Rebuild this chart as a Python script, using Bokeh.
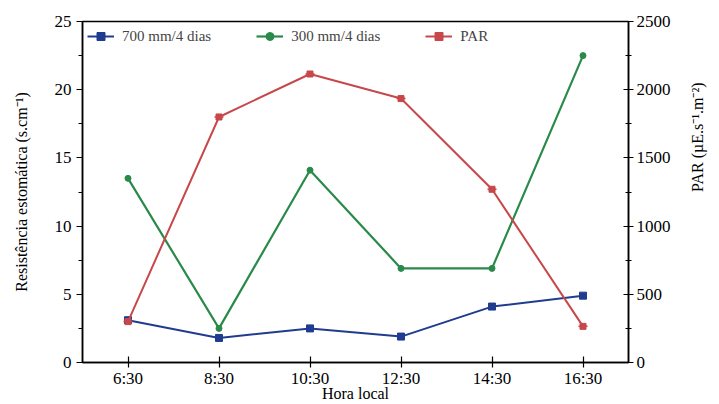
import math
from bokeh.plotting import figure
from bokeh.models import (Range1d, LinearAxis, SingleIntervalTicker, Legend, LegendItem, FactorRange)
from bokeh.embed import file_html
from bokeh.resources import INLINE

hours = ["6:30", "8:30", "10:30", "12:30", "14:30", "16:30"]
res_700 = [3.1, 1.8, 2.5, 1.9, 4.1, 4.9]
res_300 = [13.5, 2.5, 14.1, 6.9, 6.9, 22.5]
par = [300, 1800, 2115, 1935, 1270, 265]

FONT = "Liberation Serif"
BLUE = "#1f3c8f"
GREEN = "#2a8a4a"
RED = "#c8474a"

p = figure(width=719, height=404, x_range=FactorRange(*hours, range_padding=0),
           y_range=Range1d(0, 25), output_backend="svg", toolbar_location=None,
           min_border_left=82, min_border_right=91, min_border_top=21, min_border_bottom=38)
p.x_range.factor_padding = 0
p.extra_y_ranges = {"par": Range1d(0, 2500)}

p.background_fill_color = "white"
p.border_fill_color = "white"
p.outline_line_color = "black"
p.outline_line_width = 1.5
p.xgrid.visible = False
p.ygrid.visible = False

l1 = p.line(hours, res_700, color=BLUE, line_width=2)
s1 = p.scatter(hours, res_700, marker="square", size=7, color=BLUE)
l2 = p.line(hours, res_300, color=GREEN, line_width=2.2)
s2 = p.scatter(hours, res_300, marker="circle", size=6, color=GREEN)
l3 = p.line(hours, par, color=RED, line_width=2, y_range_name="par")
s3 = p.scatter(hours, par, marker="square", size=6, color=RED, y_range_name="par")
s3b = p.scatter(hours, par, marker="dash", size=9, color=RED, line_width=1.5, y_range_name="par")

# left axis
ya = p.yaxis[0]
ya.ticker = SingleIntervalTicker(interval=5, num_minor_ticks=2)
ya.axis_label = "Resistência estomática (s.cm⁻¹)"
ya.major_tick_out = 6
ya.major_tick_in = 0
ya.minor_tick_out = 4
ya.minor_tick_in = 0
ya.axis_label_standoff = 22

# right axis
ra = LinearAxis(y_range_name="par", ticker=SingleIntervalTicker(interval=500, num_minor_ticks=2),
                axis_label="PAR (µE.s⁻¹.m⁻²)")
ra.major_tick_out = 5
ra.major_tick_in = 5
ra.minor_tick_out = 3
ra.minor_tick_in = 3
ra.major_label_standoff = 3
ra.axis_label_orientation = math.pi / 2
ra.axis_label_standoff = 24
p.add_layout(ra, "right")

xa = p.xaxis[0]
xa.axis_label = "Hora local"
xa.major_tick_in = 6
xa.major_tick_out = 5
xa.major_label_standoff = 1
xa.axis_label_standoff = -6

for ax in [ya, ra, xa]:
    ax.axis_line_color = "black"
    ax.axis_line_width = 1.5
    ax.major_tick_line_color = "black"
    ax.major_tick_line_width = 1.2
    ax.minor_tick_line_color = "black"
    ax.major_label_text_font = FONT
    ax.major_label_text_font_size = "17px"
    ax.major_label_text_color = "black"
    ax.axis_label_text_font = FONT
    ax.axis_label_text_font_size = "16px"
    ax.axis_label_text_font_style = "normal"
    ax.axis_label_text_color = "black"

legend = Legend(items=[
    LegendItem(label="700 mm/4 dias", renderers=[l1, s1]),
    LegendItem(label="300 mm/4 dias", renderers=[l2, s2]),
    LegendItem(label="PAR", renderers=[l3, s3, s3b]),
], orientation="horizontal", location="top_left")
legend.margin = 5
legend.padding = 8
legend.border_line_color = None
legend.background_fill_alpha = 0
legend.label_text_font = FONT
legend.label_text_font_size = "15px"
legend.glyph_width = 27
legend.spacing = 45
legend.label_standoff = 8
p.add_layout(legend, "center")

open("out.html", "w").write(file_html(p, INLINE))
